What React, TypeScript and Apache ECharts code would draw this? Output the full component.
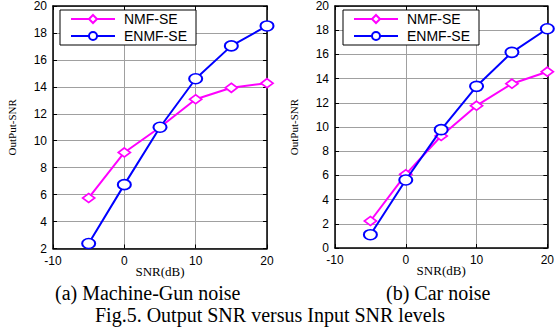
import React, { useEffect, useRef } from "react";
import * as echarts from "echarts";

const snrLevels = [-5, 0, 5, 10, 15, 20];
const gunNmf = [5.75, 9.13, 11.0, 13.08, 13.93, 14.27];
const gunEnmf = [2.37, 6.74, 11.0, 14.6, 17.04, 18.52];
const carNmf = [2.23, 6.09, 9.26, 11.76, 13.58, 14.57];
const carEnmf = [1.1, 5.62, 9.78, 13.36, 16.17, 18.12];
const seriesNames = ["NMF-SE", "ENMF-SE"];
const captionA = "(a) Machine-Gun noise";
const captionB = "(b) Car noise";
const figCaption = "Fig.5. Output SNR versus Input SNR levels";

const MAGENTA = "#ff00ff";
const BLUE = "#0000ff";
const SANS = "Liberation Sans, Arial, sans-serif";
const SERIF = "Liberation Serif, Times New Roman, serif";

const pairs = (ys: number[]) => snrLevels.map((x, i) => [x, ys[i]]);

const circlePath = "path://M10,0A10,10,0,1,1,10,20A10,10,0,1,1,10,0Z";
const diamondPath = "path://M10,0L20,10L10,20L0,10Z";

function makeSeries(name: string, data: number[][], color: string, idx: number) {
  const isNmf = name === "NMF-SE";
  return {
    type: "line",
    name,
    xAxisIndex: idx * 2,
    yAxisIndex: idx * 2,
    data,
    symbol: isNmf ? diamondPath : circlePath,
    symbolSize: isNmf ? [12, 9] : [13, 10],
    symbolKeepAspect: false,
    showAllSymbol: true,
    lineStyle: { color, width: 2 },
    itemStyle: { color: "#fff", borderColor: color, borderWidth: 1.8 },
    emphasis: { disabled: true },
    z: isNmf ? 3 : 4,
  };
}

function makeAxes(idx: number, yMin: number) {
  const axisLine = { show: true, onZero: false, lineStyle: { color: "#000", width: 1.5 } };
  const axisTick = { show: true, inside: true, length: 4, lineStyle: { color: "#000", width: 1 } };
  const xMain = {
    type: "value",
    gridIndex: idx,
    min: -10,
    max: 20,
    interval: 10,
    position: "bottom",
    axisLine,
    axisTick,
    axisLabel: { color: "#000", fontFamily: SANS, fontSize: 12, lineHeight: 9, margin: 7.5 },
    splitLine: { show: true, lineStyle: { color: "#a0a0a0", width: 1 } },
    name: "SNR(dB)",
    nameLocation: "middle",
    nameGap: 16.5,
    nameMoveOverlap: false,
    nameTextStyle: { color: "#000", fontFamily: SERIF, fontSize: 13, lineHeight: 12 },
  };
  const xTop = {
    type: "value",
    gridIndex: idx,
    min: -10,
    max: 20,
    interval: 10,
    position: "top",
    axisLine,
    axisTick,
    axisLabel: { show: false },
    splitLine: { show: false },
  };
  const yMain = {
    type: "value",
    gridIndex: idx,
    min: yMin,
    max: 20,
    interval: 2,
    position: "left",
    axisLine,
    axisTick,
    axisLabel: { color: "#000", fontFamily: SANS, fontSize: 12, lineHeight: 9, margin: 6 },
    splitLine: { show: true, lineStyle: { color: "#a0a0a0", width: 1 } },
    name: "OutPut-SNR",
    nameLocation: "middle",
    nameGap: 36,
    nameMoveOverlap: false,
    nameTextStyle: { color: "#000", fontFamily: SERIF, fontSize: 11 },
  };
  const yRight = {
    type: "value",
    gridIndex: idx,
    min: yMin,
    max: 20,
    interval: 2,
    position: "right",
    axisLine,
    axisTick,
    axisLabel: { show: false },
    splitLine: { show: false },
  };
  return { x: [xMain, xTop], y: [yMain, yRight] };
}

function makeLegend(left: number) {
  return {
    left,
    top: 10,
    orient: "vertical",
    data: seriesNames,
    padding: [2, 9, 2, 10],
    itemWidth: 44,
    itemHeight: 10,
    itemGap: 3,
    borderColor: "#000",
    borderWidth: 1,
    borderRadius: 0,
    backgroundColor: "#fff",
    selectedMode: false,
    textStyle: { color: "#000", fontFamily: SANS, fontSize: 14, lineHeight: 11, padding: [0, 0, 0, 4] },
  };
}

export default function App() {
  const ref = useRef<HTMLDivElement>(null);
  useEffect(() => {
    if (!ref.current) return;
    const chart = echarts.init(ref.current, null, { renderer: "svg" });
    const a0 = makeAxes(0, 2);
    const a1 = makeAxes(1, 0);
    chart.setOption({
      animation: false,
      backgroundColor: "#fff",
      grid: [
        { left: 53, top: 5.5, width: 214, height: 243, containLabel: false },
        { left: 335, top: 5.5, width: 215, height: 242.5, containLabel: false },
      ],
      xAxis: [...a0.x, ...a1.x],
      yAxis: [...a0.y, ...a1.y],
      legend: [makeLegend(60), makeLegend(343)],
      series: [
        makeSeries(seriesNames[0], pairs(gunNmf), MAGENTA, 0),
        makeSeries(seriesNames[1], pairs(gunEnmf), BLUE, 0),
        makeSeries(seriesNames[0], pairs(carNmf), MAGENTA, 1),
        makeSeries(seriesNames[1], pairs(carEnmf), BLUE, 1),
      ],
      graphic: [
        {
          type: "text",
          left: 55,
          top: 283,
          style: { text: captionA, font: `20px ${SERIF}`, fill: "#000" },
        },
        {
          type: "text",
          left: 386,
          top: 283,
          style: { text: captionB, font: `20px ${SERIF}`, fill: "#000" },
        },
        {
          type: "text",
          left: 95,
          top: 305,
          style: { text: figCaption, font: `20px ${SERIF}`, fill: "#000" },
        },
      ],
    });
    return () => chart.dispose();
  }, []);
  return (
    <div
      ref={ref}
      style={{ position: "absolute", left: 0, top: 0, width: 557, height: 335 }}
    />
  );
}
